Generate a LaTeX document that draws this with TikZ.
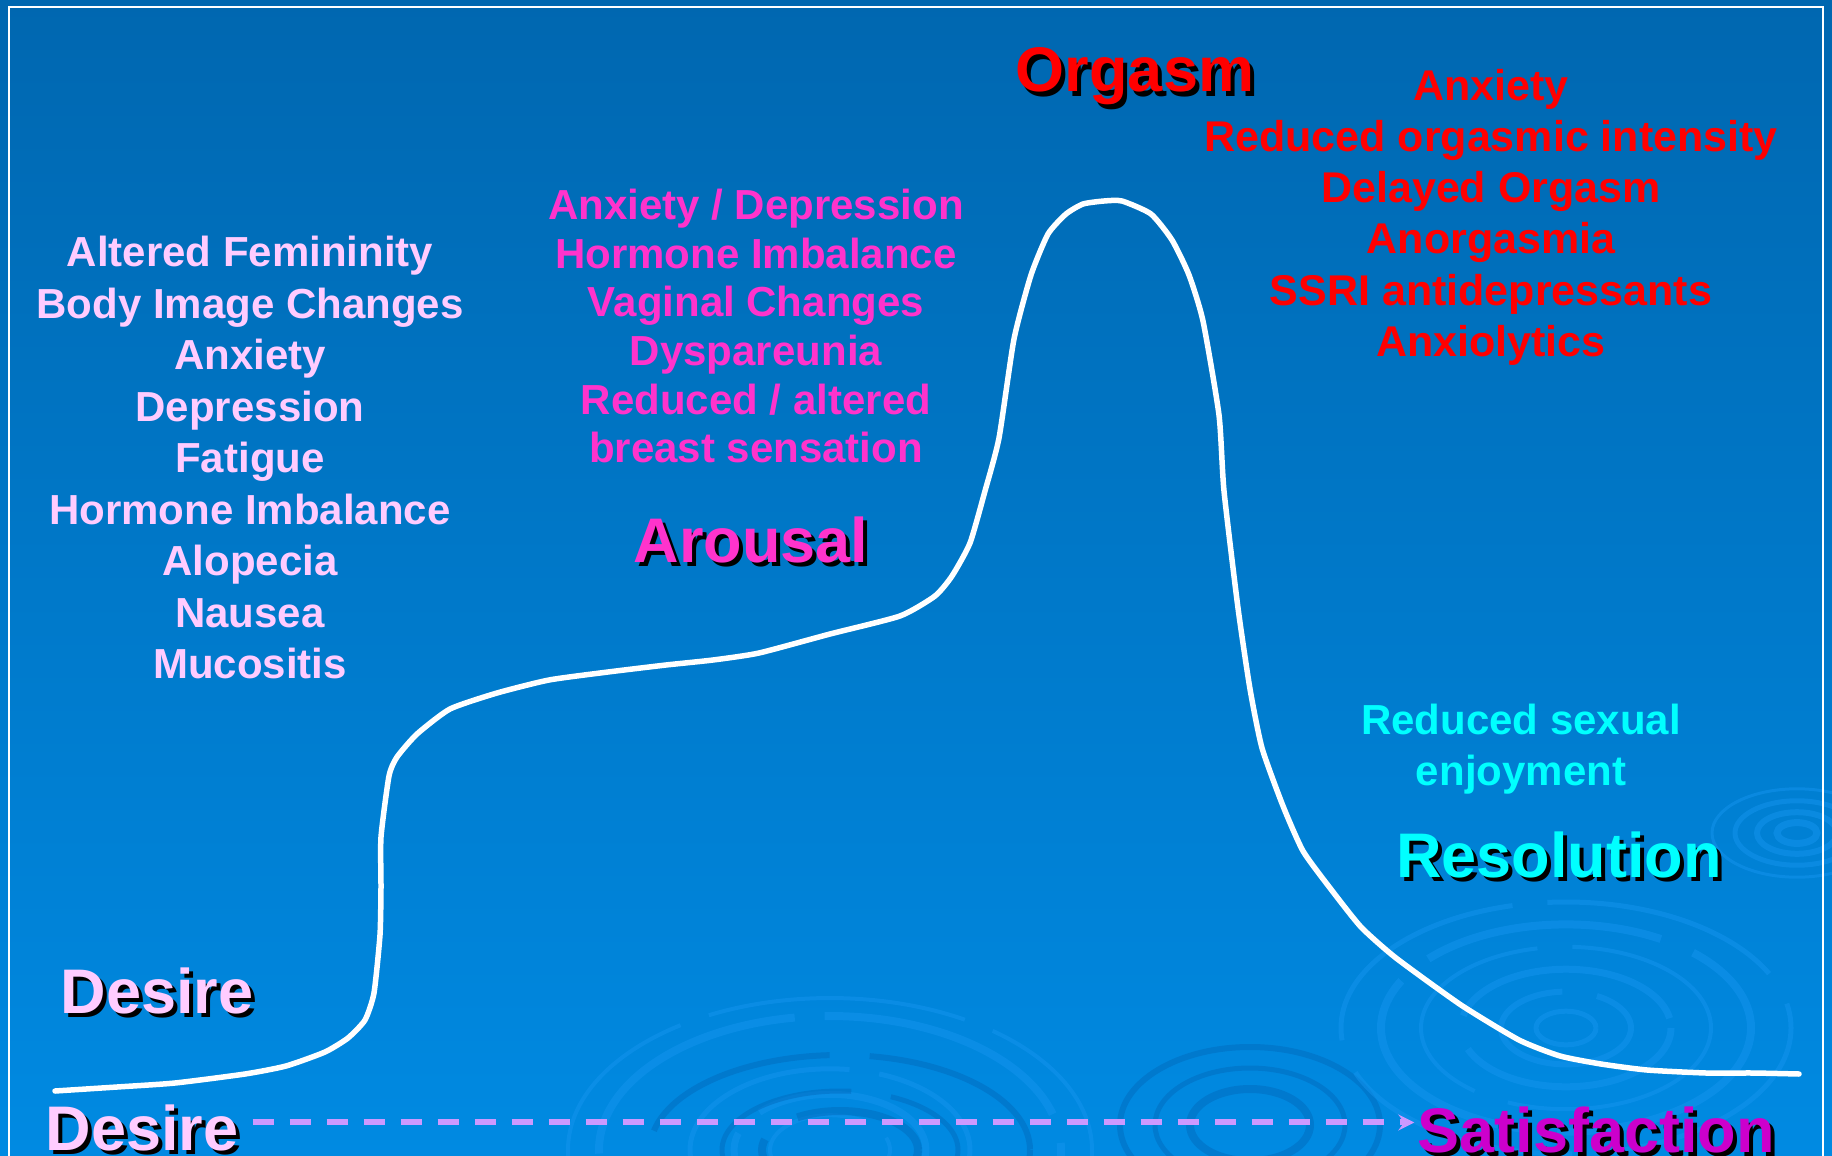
\documentclass[tikz,border=0pt]{standalone}
\usepackage{fontspec}
\setmainfont{Liberation Sans}
\usetikzlibrary{arrows.meta}

\begin{document}
\begin{tikzpicture}[x=1pt,y=-1pt]
  \definecolor{bgtop}{RGB}{0,103,176};
  \definecolor{bgmid}{RGB}{0,108,183};
  \definecolor{bgbot}{RGB}{0,138,226};
  \definecolor{desire}{RGB}{255,204,255};
  \definecolor{arousal}{RGB}{255,51,204};
  \definecolor{orgasm}{RGB}{255,0,0};
  \definecolor{resolution}{RGB}{0,255,255};
  \definecolor{satisfied}{RGB}{204,0,204};
  \definecolor{flow}{RGB}{204,153,255};
  \definecolor{ripple}{RGB}{20,148,238};
  \definecolor{rippledark}{RGB}{0,104,186};
  \tikzstyle{phase}=[anchor=base,inner sep=0pt,font=\bfseries\fontsize{63}{63}\selectfont]
  \tikzstyle{phaseshadow}=[phase,text=black]
  \tikzstyle{issues}=[anchor=north,align=center,inner sep=0pt]
  \tikzstyle{wave}=[draw=ripple,opacity=0.5]
  \tikzstyle{wavedark}=[draw=rippledark,opacity=0.45]
  \tikzstyle{flowline}=[draw=flow,line width=6pt,dash pattern=on 21pt off 16pt,-{Stealth[length=16pt,width=16pt,inset=6pt]}]
  \useasboundingbox (0,0) rectangle (1832,1156);
  \clip (0,0) rectangle (1832,1156);
  \shade[top color=bgtop,middle color=bgmid,bottom color=bgbot] (0,0) rectangle (1832,1156);

  \foreach \r/\w in {262/4,231/8,140/5,96/7,60/4}
    \draw[wave,line width=\w pt,dash pattern=on 260pt off 30pt] (830,1150) ellipse [x radius=\r, y radius=0.58*\r];
  \foreach \r/\w in {190/6,118/5,78/8}
    \draw[wavedark,line width=\w pt,dash pattern=on 200pt off 40pt] (840,1150) ellipse [x radius=\r, y radius=0.5*\r];
  \foreach \r/\w in {130/6,95/5,60/8}
    \draw[wavedark,line width=\w pt] (1250,1125) ellipse [x radius=\r, y radius=0.6*\r];
  \foreach \r/\w in {225/5,185/8,145/4,105/7,65/6,30/5}
    \draw[wave,line width=\w pt,dash pattern=on 240pt off 35pt] (1566,1028) ellipse [x radius=\r, y radius=0.56*\r];
  \foreach \r/\w in {85/3,62/5,40/6,20/7}
    \draw[wave,line width=\w pt] (1797,833) ellipse [x radius=\r, y radius=0.52*\r];

  \draw[white,line width=2.5pt] (9,7) rectangle (1823,1170);

  \draw[white,line width=5.5pt,line cap=round,line join=round] plot[smooth,tension=0.35] coordinates {
    (55,1091) (117,1087) (175,1083) (245,1074) (286,1066) (325,1052) (348,1038)
    (365,1020) (374,993) (380,935) (381,888) (381,837) (389,776) (397,757)
    (417,734) (450,709) (497,693) (549,680) (608,672) (666,665) (713,660)
    (759,653) (830,634) (900,616) (935,596) (952,576) (970,543) (985,491)
    (999,438) (1014,339) (1031,275) (1048,234) (1066,214) (1083,204) (1104,201)
    (1122,201) (1151,214) (1172,240) (1189,275) (1203,321) (1219,415) (1224,491)
    (1238,608) (1250,689) (1262,748) (1283,806) (1303,851) (1330,888) (1361,927)
    (1396,958) (1461,1005) (1519,1040) (1560,1056) (1601,1064) (1647,1070)
    (1706,1073) (1753,1073) (1799,1074)};

  \node (desirelist) at (250,236) [issues,text=desire,font=\bfseries\fontsize{42}{51.5}\selectfont]
    {Altered Femininity\\Body Image Changes\\Anxiety\\Depression\\Fatigue\\Hormone Imbalance\\Alopecia\\Nausea\\Mucositis};
  \node (arousallist) at (756,189) [issues,text=arousal,font=\bfseries\fontsize{42}{48.6}\selectfont]
    {Anxiety / Depression\\Hormone Imbalance\\Vaginal Changes\\Dyspareunia\\Reduced / altered\\breast sensation};
  \node (orgasmlist) at (1491,69) [issues,text=orgasm,font=\bfseries\fontsize{43}{51.2}\selectfont]
    {Anxiety\\Reduced orgasmic intensity\\Delayed Orgasm\\Anorgasmia\\SSRI antidepressants\\Anxiolytics};
  \node (resolutionlist) at (1521,704) [issues,text=resolution,font=\bfseries\fontsize{42}{51}\selectfont]
    {Reduced sexual\\enjoyment};

  \node (desireshadow) at (161,1017) [phaseshadow] {Desire};
  \node (desire) at (157,1013) [phase,text=desire] {Desire};
  \node (arousalshadow) at (755,566) [phaseshadow] {Arousal};
  \node (arousal) at (751,562) [phase,text=arousal] {Arousal};
  \node (orgasmshadow) at (1139,96) [phaseshadow] {Orgasm};
  \node (orgasm) at (1135,92) [phase,text=orgasm] {Orgasm};
  \node (resolutionshadow) at (1563,881) [phaseshadow] {Resolution};
  \node (resolution) at (1559,877) [phase,text=resolution] {Resolution};
  \node (desirebaseshadow) at (146,1154) [phaseshadow] {Desire};
  \node (desirebase) at (142,1150) [phase,text=desire] {Desire};
  \node (satisfactionshadow) at (1600,1156) [phaseshadow] {Satisfaction};
  \node (satisfaction) at (1596,1152) [phase,text=satisfied] {Satisfaction};

  \draw[flowline] ([xshift=14pt,yshift=5pt]desirebase.east) -- ([xshift=-3pt,yshift=7pt]satisfaction.west);
\end{tikzpicture}
\end{document}
